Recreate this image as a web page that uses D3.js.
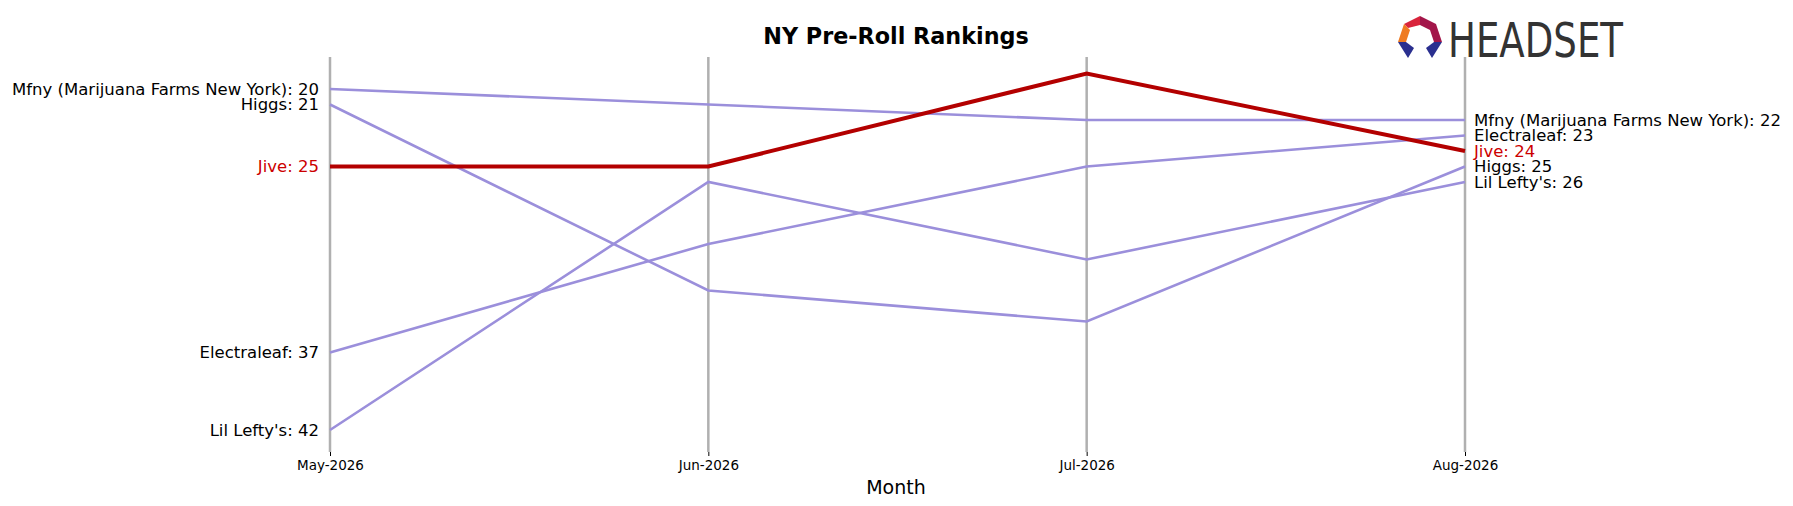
<!DOCTYPE html>
<html><head><meta charset="utf-8">
<script src="https://cdn.jsdelivr.net/npm/d3@7"></script>
<style>body{margin:0;background:#fff}text{font-family:"DejaVu Sans",sans-serif}</style>
</head><body><svg id="c" width="1793" height="506"></svg>
<script>
const months = ["May-2026", "Jun-2026", "Jul-2026", "Aug-2026"];
const brands = ["Mfny (Marijuana Farms New York)", "Higgs", "Jive", "Electraleaf", "Lil Lefty's"];
const mfny = [20, 21, 22, 22];
const higgs = [21, 33, 35, 25];
const jive = [25, 25, 19, 24];
const electraleaf = [37, 30, 25, 23];
const lilLefty = [42, 26, 31, 26];
const highlight = "Jive";

const series = [mfny, higgs, jive, electraleaf, lilLefty].map((v, i) => ({name: brands[i], values: v}));

const svg = d3.select("#c");
const x = d3.scalePoint().domain(months).range([330, 1465]);
const y = d3.scaleLinear().domain([20, 42]).range([89, 430]);

// axes verticaux
svg.selectAll(".vline").data(months).join("line")
  .attr("x1", d => x(d)).attr("x2", d => x(d))
  .attr("y1", 57).attr("y2", 452)
  .attr("stroke", "#b0b0b0").attr("stroke-width", 2.5);

svg.append("g").attr("transform", "translate(0,452)")
  .call(d3.axisBottom(x).tickSize(4).tickPadding(4))
  .call(g => g.select(".domain").remove())
  .call(g => g.selectAll("text").attr("font-size", 13.5).attr("font-family", "DejaVu Sans").attr("fill", "#000"));

const line = d3.line().x((d, i) => x(months[i])).y(d => y(d));

// lignes (Jive en dernier)
const ordered = series.filter(s => s.name !== highlight).concat(series.filter(s => s.name === highlight));
svg.selectAll(".ln").data(ordered).join("path")
  .attr("d", d => line(d.values))
  .attr("fill", "none")
  .attr("stroke", d => d.name === highlight ? "#b30000" : "#9b8fdb")
  .attr("stroke-width", d => d.name === highlight ? 4 : 2.6);

// étiquettes gauche et droite
svg.selectAll(".ll").data(series).join("text")
  .attr("x", 319).attr("y", d => y(d.values[0])).attr("dy", "0.35em")
  .attr("text-anchor", "end").attr("font-size", 16.5)
  .attr("fill", d => d.name === highlight ? "#cc0000" : "#000")
  .text(d => `${d.name}: ${d.values[0]}`);

svg.selectAll(".rl").data(series).join("text")
  .attr("x", 1474).attr("y", d => y(d.values[3])).attr("dy", "0.35em")
  .attr("font-size", 16.5)
  .attr("fill", d => d.name === highlight ? "#cc0000" : "#000")
  .text(d => `${d.name}: ${d.values[3]}`);

svg.append("text").attr("x", 896).attr("y", 44).attr("text-anchor", "middle")
  .attr("font-size", 22.3).attr("font-weight", "bold").text("NY Pre-Roll Rankings");
svg.append("text").attr("x", 896).attr("y", 494).attr("text-anchor", "middle")
  .attr("font-size", 19).text("Month");

// logo
const lg = svg.append("g").attr("transform", "translate(1398,16)");
lg.append("path").attr("d", "M22 0 L38 8 L44 26 L36 26 L32 14 L22 9 Z").attr("fill", "#a3164a");
lg.append("path").attr("d", "M22 0 L6 8 L10 12 L22 9 Z").attr("fill", "#d9243c");
lg.append("path").attr("d", "M6 8 L0 26 L8 26 L12 14 Z").attr("fill", "#ef7b22");
lg.append("path").attr("d", "M0 26 L10 42 L16 32 L8 26 Z").attr("fill", "#2a2f8f");
lg.append("path").attr("d", "M44 26 L34 42 L28 32 L36 26 Z").attr("fill", "#2a2f8f");
lg.append("text").attr("x", 50).attr("y", 41).attr("font-size", 48)
  .attr("font-family", "Roboto").attr("textLength", 175).attr("lengthAdjust", "spacingAndGlyphs")
  .attr("fill", "#333").text("HEADSET");
</script></body></html>
